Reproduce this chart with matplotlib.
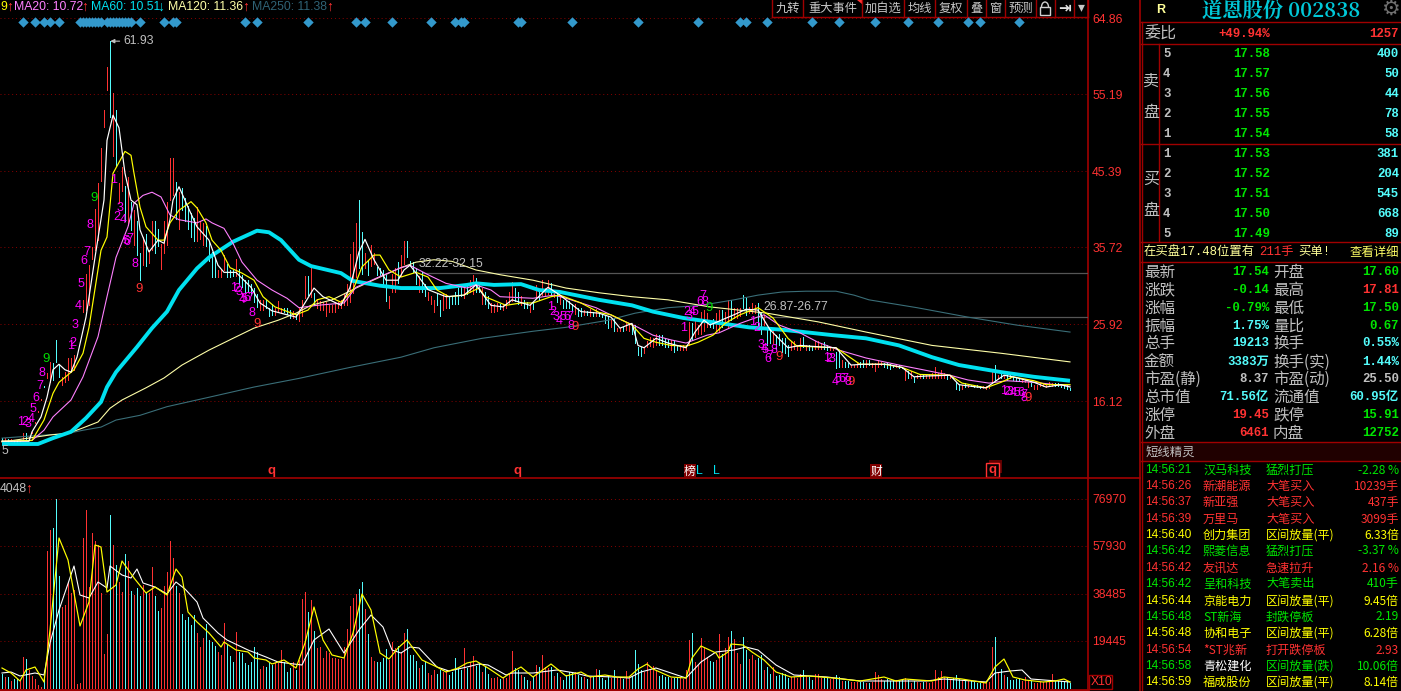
import matplotlib
matplotlib.use("Agg")
import matplotlib.pyplot as plt
from matplotlib.patches import Rectangle, Arc

# ---------------------------------------------------------------- data
# signed volume read from the volume pane, in multiples of VOL_UNIT (+ up day, - down day)
VOL_UNIT = 405
vol_signed = [
 -15,12,-12,8,-10,-10,8,32,-30,19, 13,10,4,2,-11,138,159,-161,-190,-113,
 82,84,107,96,99,5,6,151,179,102, 156,148,144,96,35,55,-174,144,-124,107,
 97,-135,128,-98,94,-101,-93,104,-96,96, 122,-93,-78,81,103,117,148,131,-103,96,
 -75,-69,-72,-64,-74,56,42,51,-65,-49, -47,-43,37,34,66,-44,-33,-27,57,-37,
 -36,-26,-24,-27,-42,-37,20,23,-22,-26, -24,26,26,39,-27,-17,-21,27,-19,29,
 90,97,-77,89,-58,41,42,31,38,36, 31,31,30,30,42,60,83,91,95,-100,
 -107,80,-55,32,28,-27,-27,-31,-40,29, 47,41,-43,37,56,-60,-34,-34,-28,21,
 -24,-28,16,14,19,-15,-19,17,19,-14, -17,-31,-21,-19,41,-21,27,33,-23,-26,
 17,-22,-15,11,11,12,-10,12,11,16, 38,-21,-19,14,-12,-9,8,-12,24,-22,
 34,22,21,-22,13,-16,12,-9,-14,-17, -17,17,-14,-12,12,-10,12,-12,20,-19,
 -11,-9,-13,11,-19,11,11,-10,18,11, -13,-39,-25,-19,17,27,19,23,19,-13,
 -14,-12,-12,11,-11,-11,11,10,19,49, -56,27,24,51,41,32,-28,-27,29,55,
 -35,41,52,-58,50,36,25,-52,-39,30, 34,29,-31,-34,19,-22,-15,22,-13,-14,
 -16,-15,-11,12,12,11,15,-19,13,-12, -9,15,15,11,-12,-12,10,11,-14,-12,
 8,-8,-8,7,7,7,-7,-7,6,-6, 7,17,14,10,-8,-10,-8,-9,9,-8,
 -10,11,-9,6,-8,7,6,-7,7,6, 7,19,12,18,12,-11,9,-11,-14,-10,
 9,-9,8,-8,-7,-6,-6,7,6,7, 42,-52,16,-20,14,-12,-9,-9,-10,-10,
 8,12,9,-8,6,6,7,7,7,7, 15,-8,-8,-8,-8,-8,-6]

highs = [
 11.4,11.4,11.3,11.3,11.2,11.2,11.1,12.0,12.0,11.6, 12.17,13.45,14.85,16.37,18.03,19.7,21.1,21.0,23.9,20.7,
 19.2,19.8,21.6,21.6,22.0,24.2,26.6,29.0,32.3,33.4, 35.7,40.6,43.9,48.3,53.2,58.7,61.93,55.3,53.2,43.9,
 45.9,43.5,44.6,41.5,40.4,39.1,34.9,37.0,37.4,35.3, 39.1,39.1,38.0,36.1,39.1,41.5,47.1,47.1,44.0,42.7,
 43.2,42.0,41.0,40.0,39.4,40.8,39.1,38.8,38.4,36.5, 35.1,34.2,32.8,32.8,34.7,33.5,32.8,32.8,34.2,32.9,
 32.2,31.5,31.5,31.0,30.5,29.8,29.0,29.0,29.0,28.0, 28.5,28.0,28.9,28.0,28.0,27.9,27.7,27.6,27.2,27.9,
 29.0,32.0,32.0,33.0,29.9,29.1,28.9,28.7,28.7,28.4, 28.4,28.7,28.7,29.0,29.7,31.0,34.8,36.4,38.8,41.7,
 37.6,35.0,34.1,36.0,35.0,33.2,33.0,32.8,32.2,29.5, 32.3,33.0,33.8,34.7,36.5,36.5,34.0,33.8,33.0,32.0,
 32.5,31.0,30.0,29.5,29.0,29.8,29.0,29.9,29.8,29.5, 29.5,30.0,30.5,31.0,30.9,31.0,31.5,32.2,31.8,31.0,
 30.5,30.0,29.5,28.6,28.5,28.6,28.5,28.5,29.0,30.0, 31.3,30.5,30.0,29.5,29.0,28.7,28.5,28.7,30.9,30.0,
 31.5,30.5,31.5,31.1,30.0,30.0,29.5,29.0,29.0,28.8, 28.5,28.5,28.0,28.0,27.7,27.6,27.8,27.5,27.8,27.5,
 27.2,26.9,27.0,26.5,26.7,25.4,25.4,25.6,26.0,25.8, 25.5,25.8,23.0,23.0,23.0,23.8,24.3,24.1,24.7,24.5,
 24.5,24.1,24.0,23.9,23.7,23.3,23.3,23.3,23.3,26.2, 26.0,26.4,25.8,27.5,27.7,27.3,26.2,26.6,27.3,27.7,
 27.7,27.5,29.0,29.0,27.9,27.9,27.9,29.6,29.2,28.1, 28.6,28.3,28.6,27.3,27.1,25.4,25.4,25.2,24.5,24.7,
 24.1,24.1,23.3,23.7,23.7,23.3,24.1,24.3,23.3,23.3, 23.1,23.7,23.8,23.5,23.6,23.3,23.0,22.8,22.4,22.6,
 21.3,21.1,20.9,20.7,20.7,20.9,21.1,21.3,21.3,21.3, 20.9,20.9,21.3,21.1,21.0,20.9,20.8,20.7,20.7,20.7,
 20.5,20.2,19.9,19.9,19.2,19.4,19.6,19.6,19.4,19.6, 19.7,20.4,19.7,20.1,19.7,19.6,19.4,19.2,18.6,18.2,
 18.2,18.4,18.2,18.2,18.2,18.2,18.0,18.0,18.0,18.2, 19.9,20.7,19.4,19.6,19.4,19.4,19.4,19.2,19.1,19.0,
 18.8,18.9,18.5,18.4,18.2,18.2,18.4,18.4,18.2,18.6, 18.4,18.4,18.4,18.2,18.2,18.1,17.81]
lows = [
 11.0,11.0,10.9,11.0,10.9,10.9,10.9,11.1,11.1,11.1, 12.0,13.3,14.7,16.2,17.9,19.1,18.5,18.8,21.1,19.2,
 18.2,18.5,18.8,19.8,20.1,24.1,26.5,27.4,27.7,28.3, 34.2,35.3,36.6,44.1,51.0,55.7,52.3,47.3,46.0,41.3,
 42.8,39.0,38.5,37.9,36.0,34.7,31.5,33.4,33.3,33.7, 35.4,35.0,35.8,32.9,34.9,36.0,41.7,42.3,39.3,38.0,
 40.5,39.0,38.0,37.0,36.5,36.5,36.8,36.0,35.9,34.0, 31.9,31.9,31.9,31.9,32.8,31.9,31.9,32.0,32.0,31.0,
 30.6,30.0,30.0,29.6,28.7,28.1,27.7,27.7,27.9,27.0, 27.1,27.1,27.4,27.5,27.4,27.2,26.7,26.7,26.5,26.3,
 27.0,29.2,29.6,29.3,28.4,27.9,27.7,27.7,27.0,27.4, 27.4,27.4,27.9,27.9,28.4,28.4,28.7,29.9,31.9,33.1,
 32.3,33.0,32.2,33.3,33.5,32.2,32.2,31.0,28.8,28.0, 30.0,30.0,31.2,32.0,33.5,34.5,33.5,32.5,31.0,30.0,
 30.0,29.5,29.0,28.5,27.5,28.3,27.0,27.7,28.0,28.0, 28.5,28.5,28.5,29.5,29.2,29.7,30.0,29.8,30.0,30.0,
 28.5,28.5,27.9,27.5,27.5,27.6,27.8,27.7,28.0,28.5, 28.8,28.8,28.5,28.3,28.0,28.0,27.5,27.8,29.2,29.0,
 29.6,29.5,29.8,29.6,29.3,28.7,28.5,28.0,28.0,28.0, 27.6,27.2,27.0,27.0,27.1,27.1,27.0,27.0,27.0,26.9,
 26.8,26.0,25.4,25.5,25.0,25.0,25.0,25.0,25.2,25.0, 24.7,23.5,22.0,21.9,22.2,23.0,23.1,23.0,23.3,23.3,
 23.3,23.0,23.0,22.6,22.4,22.6,22.6,22.6,22.6,23.3, 23.9,24.3,24.7,24.7,25.0,25.6,25.6,25.4,25.0,25.0,
 25.6,26.0,25.4,26.4,26.7,26.7,26.9,28.0,27.1,27.3, 27.3,27.3,25.6,24.7,25.8,23.3,23.5,23.5,22.8,23.3,
 22.4,22.2,21.8,22.6,22.8,22.6,22.6,23.0,22.6,22.6, 22.6,22.8,22.8,22.8,22.8,22.6,22.6,22.6,20.3,20.5,
 20.5,20.4,20.4,20.5,20.5,20.5,20.5,20.5,20.5,20.7, 20.5,20.0,20.5,20.7,20.5,20.3,20.2,20.4,20.4,20.3,
 20.3,18.8,19.0,19.1,18.6,19.0,19.1,19.1,19.1,19.1, 19.1,19.1,19.1,19.1,19.0,18.9,19.0,19.0,17.6,17.5,
 17.6,17.9,17.9,18.0,17.9,17.9,17.8,17.8,17.7,17.8, 18.4,18.8,19.0,19.0,19.0,18.8,19.0,18.8,18.7,18.7,
 18.6,18.6,17.9,18.0,17.7,17.7,18.0,18.0,17.9,18.0, 18.0,18.0,18.0,17.9,17.8,17.7,17.5]

ma5_days = [0,9,10,13,15,17,19,21,23,25,28,31,34,35,37,39,41,43,45,46,49,52,54,56,57,59,62,65,69,72,74,78,83,86,90,98,100,104,107,113,116,119,121,124,128,132,134,136,138,142,148,154,158,163,167,170,176,182,186,193,199,203,206,210,212,214,218,222,228,231,234,236,244,248,252,256,262,266,273,278,283,287,295,300,304,308,316,319,325,328,334,337,344,348,353,356]
ma5 = [11.0,11.0,12.2,14.1,16.6,20.1,20.8,20.1,19.8,21.7,26.8,34.4,41.7,49.3,52.5,50.9,45.1,41.7,41.1,37.9,35.1,36.6,36.2,39.2,41.7,43.4,40.8,38.3,36.6,33.4,32.5,32.5,30.6,28.6,27.6,26.8,28.0,30.5,29.4,28.3,30.6,35.1,36.7,34.1,31.5,31.5,32.8,33.4,32.4,30.3,29.4,29.6,30.9,28.3,28.1,29.0,28.3,30.6,29.6,27.5,27.3,26.8,25.4,26.0,23.2,22.9,24.1,23.5,22.9,24.9,26.4,25.8,27.1,27.8,27.7,25.2,22.9,23.2,23.0,22.9,20.7,20.8,20.8,20.4,19.2,19.3,19.4,18.2,17.9,17.8,19.4,19.2,18.5,17.9,18.2,17.9]
ma10_days = [0,10,14,17,19,24,27,29,33,35,37,41,43,44,46,48,52,54,56,59,63,65,68,70,73,76,80,84,87,91,98,102,105,109,113,117,120,124,126,129,133,138,142,145,149,154,159,161,168,173,177,183,186,193,199,203,210,214,218,223,228,232,237,241,246,252,257,262,265,272,278,286,294,300,306,316,320,328,333,337,344,348,356]
ma10 = [11.0,11.1,13.7,17.1,18.5,20.1,22.2,25.5,35.3,37.0,45.1,47.9,47.4,45.1,40.8,38.3,36.6,36.6,38.8,40.4,41.5,40.7,38.8,36.6,35.3,33.1,32.4,31.5,29.4,28.1,27.1,27.7,29.0,29.4,28.7,30.25,33.2,34.7,34.7,32.8,31.9,32.5,31.9,30.25,29.4,29.6,30.5,29.4,28.3,28.6,28.6,29.4,29.6,28.6,27.4,27.1,25.8,24.1,23.6,23.2,23.1,23.6,24.5,26.0,27.1,28.0,26.7,24.1,23.1,23.0,22.9,20.8,20.8,20.4,19.5,19.4,18.4,17.8,18.5,19.2,18.7,18.2,18.2]
ma20_days = [0,10,14,17,23,27,32,35,38,42,44,47,50,53,56,59,65,68,70,74,77,80,85,90,95,99,105,114,118,125,133,136,142,148,155,158,163,166,177,184,188,198,205,212,217,223,228,235,239,246,254,259,266,272,279,288,299,307,316,322,329,335,344,356]
ma20 = [11.0,11.1,12.4,14.1,16.25,19.2,24.3,29.4,34.4,38.3,41.3,42.3,42.7,42.1,39.8,39.2,38.8,39.3,38.8,38.1,36.2,33.8,31.5,30.25,29.2,28.0,28.3,28.6,30.6,31.8,33.1,33.4,32.2,31.1,30.5,30.9,30.25,29.4,29.2,29.6,29.2,28.0,26.7,25.5,24.5,23.9,23.5,24.5,24.8,26.0,27.1,25.8,24.8,23.6,22.6,21.6,20.7,20.1,19.4,18.8,18.4,18.7,18.5,18.0]
ma60_days = [0,12,17,23,28,33,35,38,45,50,55,59,65,69,77,85,89,93,99,103,113,117,126,133,146,155,158,164,173,179,186,199,210,217,227,238,249,260,277,288,299,310,319,333,344,356]
ma60 = [10.65,10.65,11.4,12.2,13.95,16.0,17.9,19.8,23.0,25.4,27.5,30.25,33.0,34.4,36.4,37.8,37.6,36.6,34.1,33.3,32.4,31.4,30.8,30.5,30.5,30.9,31.1,30.9,31.0,30.25,30.0,29.0,28.3,27.5,26.7,26.1,25.5,25.2,24.5,24.1,23.2,21.7,20.7,19.8,19.2,18.7]
ma120_days = [0,16,22,27,32,36,40,48,54,60,69,77,84,92,98,103,110,118,126,133,138,144,150,158,166,177,188,199,210,222,236,255,272,288,310,333,356]
ma120 = [10.9,11.8,12.0,12.7,13.45,15.2,16.25,17.8,19.05,20.7,22.6,24.1,25.4,26.4,27.3,28.3,29.0,30.5,31.9,33.1,33.8,34.1,33.9,32.8,32.2,31.5,30.5,29.9,29.4,29.0,28.1,27.3,26.2,24.9,23.2,22.2,21.1]
ma250_days = [0,22,27,33,38,46,55,62,69,84,99,116,133,144,160,177,188,202,211,222,233,244,252,260,268,278,284,289,305,322,338,356]
ma250 = [11.4,12.0,12.4,12.8,13.7,14.3,15.4,16.0,16.6,17.9,19.0,20.4,21.7,22.9,24.1,25.0,25.5,26.4,27.3,28.0,28.3,29.0,29.6,30.0,30.1,30.1,29.6,29.0,28.0,26.8,25.8,24.9]

vma5_days = [0,3,6,8,11,14,16,19,22,24,26,29,31,33,35,38,40,44,48,51,55,58,60,62,65,69,73,74,78,82,84,88,90,94,98,101,104,107,110,114,117,120,123,126,129,132,135,140,145,148,152,155,158,162,167,170,173,177,183,188,193,196,201,205,209,212,215,217,223,228,230,233,238,239,242,243,247,250,254,258,263,269,277,286,290,294,298,301,310,314,320,328,331,334,337,341,347,351,354,356]
vma5 = [21,16,8,19,22,7,59,151,129,96,63,87,144,142,97,104,128,111,96,102,94,120,112,77,67,56,42,47,39,37,31,29,25,29,21,46,82,49,34,31,56,95,79,36,30,41,49,29,22,17,21,26,28,21,11,17,22,12,25,13,17,12,14,12,12,20,25,20,12,11,31,43,36,31,37,45,44,37,29,17,12,13,11,8,10,12,8,10,8,12,10,6,22,30,12,9,7,8,10,7]
vma10_days = [0,3,6,11,14,16,19,24,26,29,32,35,36,40,43,45,47,51,55,58,61,65,67,72,75,82,88,92,100,104,109,114,119,123,127,130,133,136,139,145,149,155,159,162,168,170,177,185,191,195,204,209,213,218,228,233,238,244,248,252,258,264,275,286,308,314,328,331,336,340,343,356]
vma10 = [16,17,13,16,14,46,79,123,94,91,107,101,123,114,111,120,106,102,95,107,100,87,71,56,49,39,32,27,24,49,60,36,59,74,62,39,36,42,41,22,18,22,25,24,14,16,16,19,16,13,12,11,17,21,11,27,37,39,42,39,24,14,12,8,8,10,7,16,18,19,10,7]

price_ticks = [64.86, 55.19, 45.39, 35.72, 25.92, 16.12]
volume_ticks = [76970, 57930, 38485, 19445]
signal_days = [7,11,14,16,19,26,27,28,29,30,31,32,33,35,36,37,38,39,40,41,42,43,46,54,57,58,81,85,102,118,121,130,143,151,153,154,172,173,190,212,232,246,248,255,270,279,291,302,312,322,326,339]

td_days = [6.3,7.7,8.7,9.7,10.3,11.3,12.7,13.3, 22.7,23.7,24.3,25.3,26.3,27.3,28.3,29.3, 37.3,38.3,39.3,40.3,41.3,41.7,42.7,44.3,
           77.3,78.3,79,80,80.7,81.7,82.7,83.3, 182.7,183.7,184.7,185.7,187,188.3,189.3,189.7,
           227.3,228.3,229,230,231,232.7,233.7,234.3, 250.3,251.7,253,254,254.3,255.3,256,257.3,
           275,275.7,276.7,277.7,278.7,280,281,282, 334,335,336,337,338.3,339.7,340.7,340.7]
td_prices = [13.45,13.45,13.2,13.8,15.1,16.5,18.0,19.7, 23.1,23.5,25.8,28.2,31.0,33.9,35.1,38.5, 44.2,39.5,40.7,39.2,36.5,36.4,36.8,33.6,
             30.5,30.4,30.0,29.0,29.1,29.2,29.2,27.3, 28.1,27.5,26.8,26.3,26.8,26.8,26.8,25.7,
             25.4,27.5,26.9,27.5,27.5,28.7,29.5,28.7, 26.2,25.4,23.2,22.8,22.6,21.5,21.9,22.6,
             21.6,21.5,21.5,18.5,18.9,18.9,18.9,18.6, 17.4,17.3,17.3,17.1,17.1,17.1,16.9,16.5]
td_digits = list("12345678"*9)
green_nine_days, green_nine_prices = [14.7, 30.7, 235.7], [21.5, 42.0, 28.0]
red_nine_days, red_nine_prices = [45.7, 85, 191, 259, 283, 342], [30.4, 25.9, 25.6, 21.7, 18.5, 16.5]

ticker_rows = [
 ("14:56:21","汉马科技","猛烈打压","-2.28 %","g","g","g"),
 ("14:56:26","新潮能源","大笔买入","10239手","r","r","r"),
 ("14:56:37","新亚强","大笔买入","437手","r","r","r"),
 ("14:56:39","万里马","大笔买入","3099手","r","r","r"),
 ("14:56:40","创力集团","区间放量(平)","6.33倍","y","y","y"),
 ("14:56:42","熙菱信息","猛烈打压","-3.37 %","g","g","g"),
 ("14:56:42","友讯达","急速拉升","2.16 %","r","r","r"),
 ("14:56:42","呈和科技","大笔卖出","410手","g","g","g"),
 ("14:56:44","京能电力","区间放量(平)","9.45倍","y","y","y"),
 ("14:56:48","ST新海","封跌停板","2.19","g","g","g"),
 ("14:56:48","协和电子","区间放量(平)","6.28倍","y","y","y"),
 ("14:56:54","*ST兆新","打开跌停板","2.93","r","r","r"),
 ("14:56:58","青松建化","区间放量(跌)","10.06倍","g","w","g"),
 ("14:56:59","福成股份","区间放量(平)","8.14倍","y","y","y"),
]
ask_prices = ["17.58","17.57","17.56","17.55","17.54"]
ask_vols = ["400","50","44","78","58"]
bid_prices = ["17.53","17.52","17.51","17.50","17.49"]
bid_vols = ["381","204","545","668","89"]
stats_rows = [
 ("最新","17.54","g","开盘","17.60","g"),
 ("涨跌","-0.14","g","最高","17.81","r"),
 ("涨幅","-0.79%","g","最低","17.50","g"),
 ("振幅","1.75%","c","量比","0.67","g"),
 ("总手","19213","c","换手","0.55%","c"),
 ("金额","3383万","c","换手(实)","1.44%","c"),
 ("市盈(静)","8.37","s","市盈(动)","25.50","s"),
 ("总市值","71.56亿","c","流通值","60.95亿","c"),
 ("涨停","19.45","r","跌停","15.91","g"),
 ("外盘","6461","r","内盘","12752","g"),
]

# ---------------------------------------------------------------- styles
RED, CYAN, GREEN, YEL = "#FF3232", "#54FCFC", "#00E600", "#FFFF00"
FRAME, GRID, GRAY = "#A00000", "#8A0000", "#C0C0C0"
PAL = dict(g=GREEN, r=RED, y=YEL, c=CYAN, w="#FFFFFF", s=GRAY)
CJK = ["Noto Sans CJK SC", "DejaVu Sans"]
SANS = ["Liberation Sans", "DejaVu Sans"]
MONO = ["Liberation Mono", "Noto Sans CJK SC", "DejaVu Sans"]
W, H = 1401, 691
PX = 0.72
BAR_LW = 0.5
plt.rcParams["font.family"] = SANS

fig = plt.figure(figsize=(W / 100, H / 100), dpi=100, facecolor="black")
bg = fig.add_axes([0, 0, 1, 1])
bg.set_xlim(0, W); bg.set_ylim(H, 0); bg.axis("off")

def rect_axes(x0, y0, x1, y1):
    a = fig.add_axes([x0 / W, 1 - y1 / H, (x1 - x0) / W, (y1 - y0) / H])
    a.patch.set_visible(False)
    for s in a.spines.values():
        s.set_visible(False)
    return a

days = list(range(len(vol_signed)))
day_min, day_max = -2 / 3, 362
up = [v > 0 for v in vol_signed]

# ---------------------------------------------------------------- price pane
ax = rect_axes(0, 0, 1088, 478)
ax.set_xlim(day_min, day_max)
ax.set_ylim(6.32, 67.17)
ax.set_xticks([])
ax.yaxis.tick_right()
ax.set_yticks(price_ticks, [f"{t:.2f}" for t in price_ticks])
ax.tick_params(axis="y", length=0, pad=3, labelcolor=RED, labelsize=8.8)
ax.grid(axis="y", color=GRID, lw=0.7, ls=(0, (1, 3)))
ax.set_axisbelow(True)
for flag, col in ((True, RED), (False, CYAN)):
    xs = [d for d, u in zip(days, up) if u == flag]
    ax.vlines(xs, [lows[d] for d in xs], [highs[d] for d in xs], color=col, lw=BAR_LW, antialiased=False, zorder=2)
ax.plot(ma250_days, ma250, color="#3A6E78", lw=1.1 * PX, zorder=3)
ax.plot(ma120_days, ma120, color="#FFFFA8", lw=1.1 * PX, zorder=3)
ax.plot(ma60_days, ma60, color="#00E1F0", lw=2.8, zorder=4, solid_capstyle="butt")
ax.plot(ma20_days, ma20, color="#FF80FF", lw=1.1 * PX, zorder=5)
ax.plot(ma10_days, ma10, color=YEL, lw=1.2 * PX, zorder=5)
ax.plot(ma5_days, ma5, color="#FFFFFF", lw=1.2 * PX, zorder=6)
ax.scatter(signal_days, [64.36] * len(signal_days), marker="D", s=28, color="#3399CC", lw=0, zorder=6)

for d, p, t in zip(td_days, td_prices, td_digits):
    ax.text(d, p, t, color="#FF00FF", fontsize=9, ha="center", va="center", zorder=7)
for d, p in zip(green_nine_days, green_nine_prices):
    ax.text(d, p, "9", color="#00DD00", fontsize=9.5, ha="center", va="center", zorder=7)
for d, p in zip(red_nine_days, red_nine_prices):
    ax.text(d, p, "9", color=RED, fontsize=9.5, ha="center", va="center", zorder=7)

ax.annotate("61.93", xy=(36.1, 61.93), xytext=(40.6, 61.93), color=GRAY, fontsize=8.8, va="center", zorder=8,
            arrowprops=dict(arrowstyle="-|>", color=GRAY, lw=0.8, shrinkA=1, shrinkB=0, mutation_scale=6))
ax.hlines(32.4, 140, day_max, color="#555555", lw=0.9, zorder=1)
ax.hlines(26.8, 252, day_max, color="#555555", lw=0.9, zorder=1)
ax.text(138.7, 33.56, "32.22-32.15", color=GRAY, fontsize=8.8, va="center", zorder=8)
ax.text(253.7, 28.1, "26.87-26.77", color=GRAY, fontsize=8.8, va="center", zorder=8)
ax.text(0, 9.8, "5", color=GRAY, fontsize=8.8, va="center", ha="left", zorder=8)

# ---------------------------------------------------------------- volume pane
vx = rect_axes(0, 478, 1088, 689)
vx.set_xlim(day_min, day_max)
vx.set_ylim(0, 211 * VOL_UNIT)
vx.set_xticks([])
vx.yaxis.tick_right()
vx.set_yticks(volume_ticks, [str(t) for t in volume_ticks])
vx.tick_params(axis="y", length=0, pad=3, labelcolor=RED, labelsize=8.8)
vx.grid(axis="y", color=GRID, lw=0.7, ls=(0, (1, 3)))
vx.set_axisbelow(True)
for flag, col in ((True, RED), (False, CYAN)):
    xs = [d for d, u in zip(days, up) if u == flag]
    vx.vlines(xs, 0, [abs(vol_signed[d]) * VOL_UNIT for d in xs], color=col, lw=BAR_LW, antialiased=False, zorder=2)
vx.plot(vma10_days, [v * VOL_UNIT for v in vma10], color="#FFFFFF", lw=1.1 * PX, zorder=3)
vx.plot(vma5_days, [v * VOL_UNIT for v in vma5], color=YEL, lw=1.2 * PX, zorder=4)

# ---------------------------------------------------------------- frame
for x, y0, y1 in ((1088, 0, H), (1140, 0, H)):
    bg.plot([x, x], [y0, y1], color=FRAME, lw=1.2, solid_capstyle="butt")
bg.plot([0, 1140], [478, 478], color=FRAME, lw=1.2)
bg.plot([0, 1088], [689.5, 689.5], color=FRAME, lw=2)

def T(x, y, s, color=GRAY, size=8.8, ha="left", family=None, weight="normal", **kw):
    bg.text(x, y, s, color=color, fontsize=size, ha=ha, va="center", family=family or SANS, weight=weight, **kw)

# legend row
T(0, 7, "9", YEL)
T(6, 7, "↑", RED, 10)
T(14, 7, "MA20: 10.72", "#FF80FF")
T(81, 7, "↑", RED, 10)
T(91, 7, "MA60: 10.51", "#00E1F0")
T(157, 7, "↓", "#00E1F0", 10)
T(168, 7, "MA120: 11.36", "#FFFFA8")
T(242, 7, "↑", RED, 10)
T(252, 7, "MA250: 11.38", "#2F6275")
T(326, 7, "↑", RED, 10)
T(0, 489, "4048", GRAY)
T(25, 489, "↑", RED, 10)

# toolbar
edges = [772, 803, 862, 904, 935, 967, 986, 1005, 1036, 1055, 1074, 1088]
labels = ["九转", "重大事件", "加自选", "均线", "复权", "叠", "窗", "预测"]
bg.plot([772, 1088], [17, 17], color=FRAME, lw=1)
for e in edges:
    bg.plot([e, e], [0, 17], color=FRAME, lw=1)
for i, l in enumerate(labels):
    T((edges[i] + edges[i + 1]) / 2, 8, l, "#C8C8C8", 8.8, ha="center", family=CJK)
bg.add_patch(Rectangle((1040, 7), 10, 8, fill=False, ec="#D0D0D0", lw=1))
bg.add_patch(Arc((1045, 7), 7, 10, theta1=180, theta2=360, ec="#D0D0D0", lw=1))
T(1064.5, 7.5, "⇥", "#E0E0E0", 11, ha="center", family=["DejaVu Sans"], weight="bold")
T(1081, 7, "▾", "#C8C8C8", 10, ha="center", family=["DejaVu Sans"])
bg.fill([857, 862, 862], [0, 0, 4], color=RED, lw=0)

# event markers
T(272, 471, "q", RED, 9.5, ha="center", weight="bold")
T(518, 471, "q", RED, 9.5, ha="center", weight="bold")
bg.add_patch(Rectangle((684, 464), 12, 13, color="#800000", lw=0))
T(690, 471, "榜", "#FFFFFF", 8.5, ha="center", family=CJK)
T(699, 471, "L", "#00E1F0", 8.8, ha="center")
T(716, 471, "L", "#00E1F0", 8.8, ha="center")
bg.add_patch(Rectangle((870, 464), 12, 13, color="#800000", lw=0))
T(876, 471, "财", "#FFFFFF", 8.5, ha="center", family=CJK)
bg.add_patch(Rectangle((989, 460), 13, 13, color="#600000", lw=0))
bg.add_patch(Rectangle((986, 463), 13, 14, fc="#000000", ec=RED, lw=1))
T(992.5, 470, "q", RED, 9.5, ha="center", weight="bold")
bg.add_patch(Rectangle((1089, 675), 23, 14, fill=False, ec=FRAME, lw=1))
T(1091, 682, "X10", RED, 8.8)

# ---------------------------------------------------------------- right panel
T(1161, 10, "R", "#FFFF99", 9, ha="center", weight="bold")
T(1281, 11, "道恩股份 002838", "#00C8D8", 14.6, ha="center", family=["Noto Serif CJK SC", "Noto Sans CJK SC", "DejaVu Sans"], weight="bold")
T(1390, 9, "⚙", "#707070", 15, ha="center", family=["DejaVu Sans"])

for y in (22, 44, 144, 242, 262, 442, 461):
    bg.plot([1141, 1401], [y, y], color=FRAME, lw=1)
bg.plot([1142, 1142], [22, 691], color=FRAME, lw=1)
bg.plot([1159, 1159], [44, 242], color=FRAME, lw=1)
bg.add_patch(Rectangle((1142, 442), 259, 19, color="#200000", lw=0))

NUM = 8.9
def num(x, y, s, color, size=NUM):
    T(x, y, s, color, size, ha="right", family=MONO, weight="bold")

T(1144, 34, "委比", GRAY, 11.5, family=CJK)
num(1270, 34, "+49.94%", RED)
num(1399, 34, "1257", RED)
T(1151, 81, "卖", GRAY, 11.5, ha="center", family=CJK)
T(1151, 112, "盘", GRAY, 11.5, ha="center", family=CJK)
T(1151, 179, "买", GRAY, 11.5, ha="center", family=CJK)
T(1151, 210, "盘", GRAY, 11.5, ha="center", family=CJK)
for k in range(5):
    y = 54 + 20 * k
    T(1163, y, str(5 - k), GRAY, NUM, family=MONO, weight="bold")
    num(1270, y, ask_prices[k], GREEN)
    num(1399, y, ask_vols[k], CYAN)
    y = 154 + 20 * k
    T(1163, y, str(k + 1), GRAY, NUM, family=MONO, weight="bold")
    num(1270, y, bid_prices[k], GREEN)
    num(1399, y, bid_vols[k], CYAN)

T(1144, 252, "在买盘17.48位置有", "#FFFF99", 8.9, family=MONO)
T(1259, 252, "211手", RED, 8.9, family=MONO)
T(1298, 252, "买单!", "#FFFF99", 8.9, family=MONO)
T(1399, 252, "查看详细", "#FFFF66", 8.9, ha="right", family=CJK)

stat_ys = [272, 290, 308, 326, 343, 362, 379, 397, 415, 433]
for y, (l1, v1, c1, l2, v2, c2) in zip(stat_ys, stats_rows):
    T(1144, y, l1, GRAY, 11.2, family=CJK)
    num(1269, y, v1, PAL[c1], 8.9)
    T(1273, y, l2, GRAY, 11.2, family=CJK)
    num(1399, y, v2, PAL[c2], 8.9)

T(1146, 452, "短线精灵", GRAY, 8.9, family=CJK)
tick_ys = [470, 486, 502, 519, 535, 551, 568, 584, 601, 617, 633, 650, 666, 682]
for y, (tm, name, evt, val, c1, c2, c3) in zip(tick_ys, ticker_rows):
    T(1145, y, tm, PAL[c1], 8.6)
    T(1203, y, name, PAL[c2], 8.7, family=CJK)
    T(1266, y, evt, PAL[c3], 8.7, family=CJK)
    T(1399, y, val, PAL[c1], 8.6, ha="right", family=CJK)

fig.savefig("out.png", dpi=100, facecolor="black")
